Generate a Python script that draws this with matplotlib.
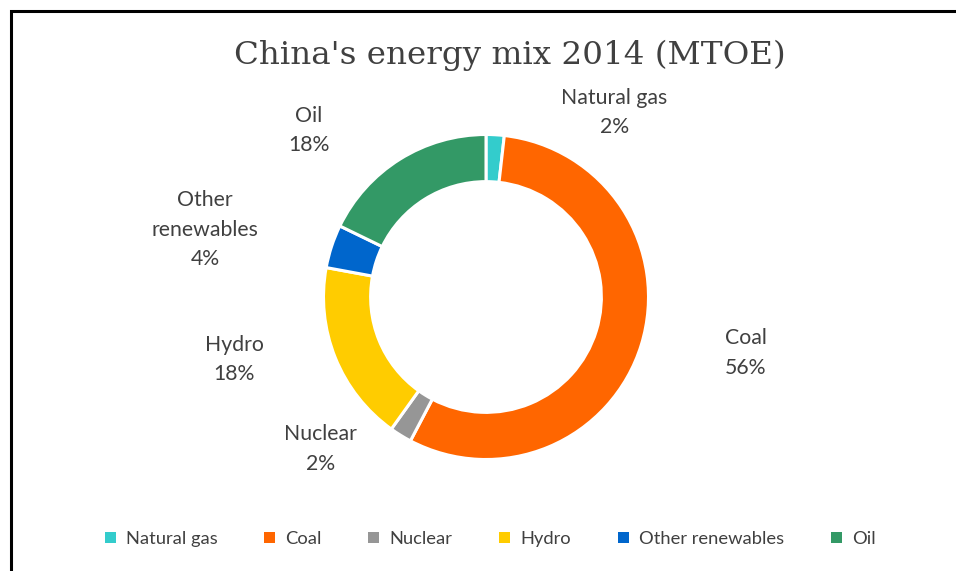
import matplotlib
matplotlib.use("Agg")
import matplotlib.pyplot as plt
from matplotlib.patches import Patch, Rectangle
import numpy as np

categories = ["Natural gas", "Coal", "Nuclear", "Hydro", "Other renewables", "Oil"]
values = [1.8, 55.9, 2.2, 18.0, 4.3, 17.8]
pct_labels = ["2%", "56%", "2%", "18%", "4%", "18%"]
label_text = ["Natural gas", "Coal", "Nuclear", "Hydro", "Other\nrenewables", "Oil"]
colors = ["#33CCCC", "#FF6600", "#969696", "#FFCC00", "#0066CC", "#339966"]
title = "China's energy mix 2014 (MTOE)"

# label positions (data units relative to pie radius 1)
label_pos = [(0.79, 1.135), (1.60, -0.345), (-1.02, -0.935), (-1.55, -0.385), (-1.73, 0.415), (-1.09, 1.025)]

W, H = 956, 571
fig = plt.figure(figsize=(W / 100, H / 100), dpi=100)
fig.patch.set_facecolor("white")

# frame (cropped box: only left and top visible)
fig.add_artist(Rectangle((10.5 / W, -0.1), 1.2, (H - 10.5) / H + 0.1, transform=fig.transFigure,
                         fill=False, edgecolor="black", linewidth=2.2))

cx, cy, R = 486, H - 297, 162.5
ax = fig.add_axes([(cx - R) / W, (cy - R) / H, 2 * R / W, 2 * R / H])
wedges, _ = ax.pie(values, colors=colors, startangle=90, counterclock=False,
                   radius=1.0, wedgeprops=dict(width=0.29, edgecolor="white", linewidth=2.2))
ax.set_xlim(-1, 1)
ax.set_ylim(-1, 1)
ax.set_aspect("equal")
ax.axis("off")

lab_font = "Lato"
for (x, y), t, p in zip(label_pos, label_text, pct_labels):
    ax.text(x, y, f"{t}\n{p}", ha="center", va="center", fontsize=15.3, color="#404040",
            family=lab_font, linespacing=1.6, clip_on=False)

fig.text(510 / W, 1 - 55 / H, title, ha="center", va="center", fontsize=23.4,
         family="DejaVu Serif", color="#404040")

handles = [Patch(facecolor=c, edgecolor="none") for c in colors]
leg = fig.legend(handles, categories, loc="center", bbox_to_anchor=(490 / W, 1 - 539 / H),
                 ncol=6, frameon=False, handlelength=0.6, handleheight=0.6,
                 handletextpad=0.55, columnspacing=2.55, prop=dict(family=lab_font, size=13.2))
for t in leg.get_texts():
    t.set_color("#404040")

fig.savefig("out.png", dpi=100, facecolor="white")
